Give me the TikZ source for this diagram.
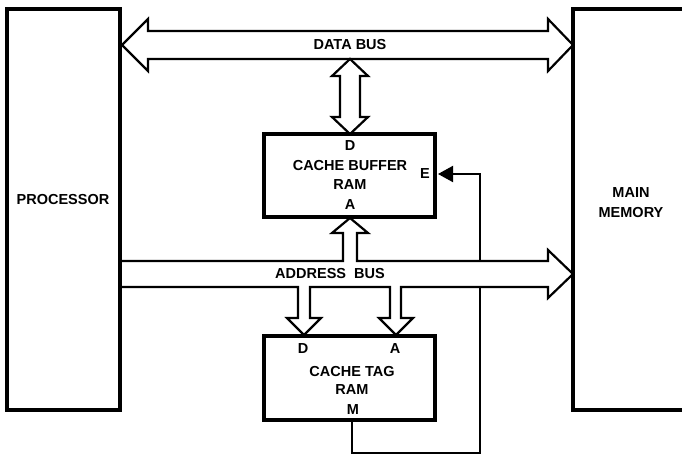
\documentclass[tikz,border=0pt]{standalone}
\usepackage{fontspec}
\setmainfont{Liberation Sans}
\usetikzlibrary{arrows.meta}
\begin{document}
\begin{tikzpicture}[x=1pt,y=-1pt,
  lbl/.style={font=\fontsize{14.5}{16}\selectfont\bfseries, inner sep=0pt, anchor=center},
  bigbox/.style={draw, line width=4.5pt, inner sep=0pt},
  rambox/.style={draw, line width=3.5pt, inner sep=0pt, minimum width=171pt},
  bus/.style={draw, line width=2.2pt, fill=white, line join=miter},
  wire/.style={draw, line width=2pt}]
\useasboundingbox (0,0) rectangle (682,455);
\clip (0,0) rectangle (682,455);

% invisible anchors for the wire
\coordinate (mwire) at (352,420);
\coordinate (wcorner1) at (352,453);
\coordinate (wcorner2) at (480,453);
\coordinate (wcorner3) at (480,174);
\coordinate (etip) at (438,174);

% M -> E wire (drawn first, hidden by the address bus where it crosses)
\draw[wire, -{Triangle[length=15pt,width=16pt]}] (mwire) -- (wcorner1) -- (wcorner2) -- (wcorner3) -- (etip);

% data bus
\draw[bus] (122,45) -- (148,19) -- (148,31) -- (548,31) -- (548,19) -- (573,45)
  -- (548,71) -- (548,59) -- (148,59) -- (148,71) -- cycle;
\node[lbl] (databus) at (350,45) {DATA BUS};

% data bus <-> cache buffer
\draw[bus] (350,59) -- (368,76) -- (360,76) -- (360,117) -- (368,117) -- (350,134)
  -- (332,117) -- (340,117) -- (340,76) -- (332,76) -- cycle;

% address bus with its branches
\draw[bus] (120,261) -- (343,261) -- (343,233) -- (332,233) -- (350,218) -- (368,233)
  -- (357,233) -- (357,261) -- (548,261) -- (548,250) -- (573,274) -- (548,298)
  -- (548,287) -- (401,287) -- (401,318) -- (413,318) -- (396,335) -- (379,318)
  -- (390,318) -- (390,287) -- (310,287) -- (310,318) -- (321,318) -- (304,335)
  -- (287,318) -- (298,318) -- (298,287) -- (120,287);
\node[lbl] (addrbus) at (330,274) {ADDRESS\ \ BUS};

% boxes
\node[bigbox, minimum width=113pt, minimum height=401pt] (proc) at (63.5,209.5) {};
\node[bigbox, minimum width=137pt, minimum height=401pt] (mem) at (641.5,209.5) {};
\node[rambox, minimum height=83pt] (cbuf) at (349.5,175.5) {};
\node[rambox, minimum height=84pt] (ctag) at (349.5,378) {};

% labels
\node[lbl] (proclbl) at (63,200) {PROCESSOR};
\node[lbl, align=center, font=\fontsize{14.5}{20}\selectfont\bfseries] (memlbl) at (631,203) {MAIN\\MEMORY};

\node[lbl] (cbufD) at (350,146) {D};
\node[lbl] (cbufname) at (350,166) {CACHE BUFFER};
\node[lbl] (cbufram) at (350,185) {RAM};
\node[lbl] (cbufA) at (350,205) {A};
\node[lbl] (cbufE) at (425,174) {E};

\node[lbl] (ctagD) at (303,349) {D};
\node[lbl] (ctagA) at (395,349) {A};
\node[lbl] (ctagname) at (352,372) {CACHE TAG};
\node[lbl] (ctagram) at (352,390) {RAM};
\node[lbl] (ctagM) at (353,410) {M};
\end{tikzpicture}
\end{document}
